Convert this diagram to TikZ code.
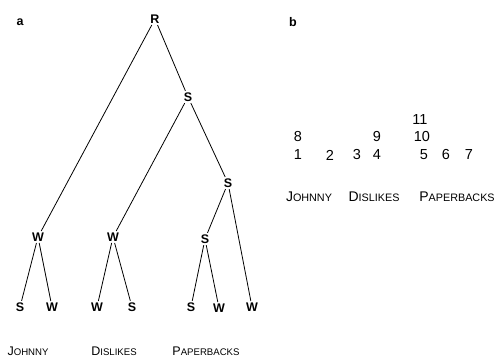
\documentclass[tikz,border=0pt]{standalone}
\usepackage{fontspec}
\setmainfont{Liberation Sans}
\newcommand{\fsc}[4]{{\fontsize{#1}{12}\selectfont #3}{\fontsize{#2}{10}\selectfont #4}}
\begin{document}
\begin{tikzpicture}[x=1pt,y=-1pt,
  lab/.style={font=\fontsize{12.5}{14}\selectfont\bfseries, inner sep=1.5pt},
  num/.style={font=\fontsize{14.5}{16}\selectfont, inner sep=0pt},
  wrd/.style={inner sep=0pt},
  edge/.style={line width=0.8pt}]
\useasboundingbox (0,0) rectangle (499,358);
\node[lab] (pa) at (20,22) {a};
\node[lab] (pb) at (293,22) {b};
% tree
\node[lab] (R) at (155,19) {R};
\node[lab] (S1) at (188,97) {S};
\node[lab] (S2) at (228,183) {S};
\node[lab] (W1) at (38,237) {W};
\node[lab] (W2) at (113,237) {W};
\node[lab] (S3) at (205,239) {S};
\node[lab] (l1) at (20,307) {S};
\node[lab] (l2) at (52,307) {W};
\node[lab] (l3) at (97,307) {W};
\node[lab] (l4) at (132,307) {S};
\node[lab] (l5) at (191,307) {S};
\node[lab] (l6) at (219,308) {W};
\node[lab] (l7) at (252,307) {W};
\draw[edge] (R) -- (S1);
\draw[edge] (R) -- (W1);
\draw[edge] (S1) -- (W2);
\draw[edge] (S1) -- (S2);
\draw[edge] (S2) -- (S3);
\draw[edge] (S2) -- (l7);
\draw[edge] (W1) -- (l1);
\draw[edge] (W1) -- (l2);
\draw[edge] (W2) -- (l3);
\draw[edge] (W2) -- (l4);
\draw[edge] (S3) -- (l5);
\draw[edge] (S3) -- (l6);
\node[wrd] (wa1) at (28,351) {\fsc{12.5}{9.6}{J}{OHNNY}};
\node[wrd] (wa2) at (114,351) {\fsc{12.5}{9.6}{D}{ISLIKES}};
\node[wrd] (wa3) at (206,351) {\fsc{12.5}{9.6}{P}{APERBACKS}};
% grid b
\node[num] (n8) at (298,137) {8};
\node[num] (n1) at (298,155) {1};
\node[num] (n2) at (330,155) {2};
\node[num] (n3) at (357,155) {3};
\node[num] (n4) at (377,155) {4};
\node[num] (n9) at (377,137) {9};
\node[num] (n11) at (420,120) {11};
\node[num] (n10) at (422,137) {10};
\node[num] (n5) at (424,155) {5};
\node[num] (n6) at (446,155) {6};
\node[num] (n7) at (469,155) {7};
\node[wrd] (wb1) at (309,197) {\fsc{14}{10.8}{J}{OHNNY}};
\node[wrd] (wb2) at (374,197) {\fsc{14}{10.8}{D}{ISLIKES}};
\node[wrd] (wb3) at (457,197) {\fsc{14}{10.8}{P}{APERBACKS}};
\end{tikzpicture}
\end{document}
